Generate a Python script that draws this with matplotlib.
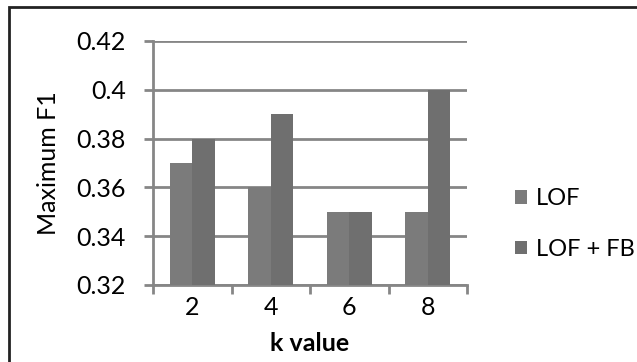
import matplotlib.pyplot as plt
import numpy as np
from matplotlib.patches import Rectangle

k_values = ["2", "4", "6", "8"]
lof = [0.37, 0.36, 0.35, 0.35]
lof_fb = [0.38, 0.39, 0.35, 0.40]
series_labels = ["LOF", "LOF + FB"]
y_ticks = [0.32, 0.34, 0.36, 0.38, 0.40, 0.42]
y_tick_labels = ["0.32", "0.34", "0.36", "0.38", "0.4", "0.42"]

plt.rcParams["font.family"] = ["Lato", "DejaVu Sans"]

W, H = 637, 362
fs = 18
fig = plt.figure(figsize=(W / 100, H / 100), dpi=100)
ax = fig.add_axes([153 / W, 1 - 285 / H, (467 - 153) / W, (285 - 41) / H])

x = np.arange(len(k_values))
width = 0.287
grey = "#868686"
ax.bar(x - width / 2, np.array(lof) - 0.32, width, bottom=0.32,
       color="#7b7b7b", label=series_labels[0], zorder=3)
ax.bar(x + width / 2, np.array(lof_fb) - 0.32, width, bottom=0.32,
       color="#6f6f6f", label=series_labels[1], zorder=3)

ax.set_xlim(-0.5, len(k_values) - 0.5)
ax.set_ylim(0.32, 0.42)
ax.set_yticks(y_ticks)
ax.set_yticklabels(y_tick_labels, fontsize=fs)
ax.set_xticks(x)
ax.set_xticklabels(k_values, fontsize=fs)
ax.tick_params(axis="x", length=0, pad=8)
ax.tick_params(axis="y", length=6.5, width=2, color=grey, pad=13)
ax.set_xticks(np.arange(-0.5, len(k_values)), minor=True)
ax.tick_params(axis="x", which="minor", length=6.5, width=2, color=grey)

ax.grid(axis="y", color=grey, linewidth=2, zorder=0)
for side in ["top", "right"]:
    ax.spines[side].set_visible(False)
for side in ["left", "bottom"]:
    ax.spines[side].set_color(grey)
    ax.spines[side].set_linewidth(2)

ax.set_xlabel("k value", fontsize=fs, fontweight="bold", labelpad=9)
ax.set_ylabel("Maximum F1", fontsize=fs, labelpad=12)

ax.legend(loc="center left", bbox_to_anchor=(515 / W, 1 - 224 / H),
          bbox_transform=fig.transFigure, frameon=False, fontsize=17,
          borderpad=0, borderaxespad=0,
          handlelength=0.5, handleheight=0.5, handletextpad=0.4,
          labelspacing=1.25)

# outer frame of the chart area
fig.patches.append(Rectangle((9 / W, -0.1), 1.2, 1 - 7 / H + 0.1,
                             transform=fig.transFigure, fill=False,
                             edgecolor="#222222", linewidth=2))

fig.savefig("out.png", dpi=100)
